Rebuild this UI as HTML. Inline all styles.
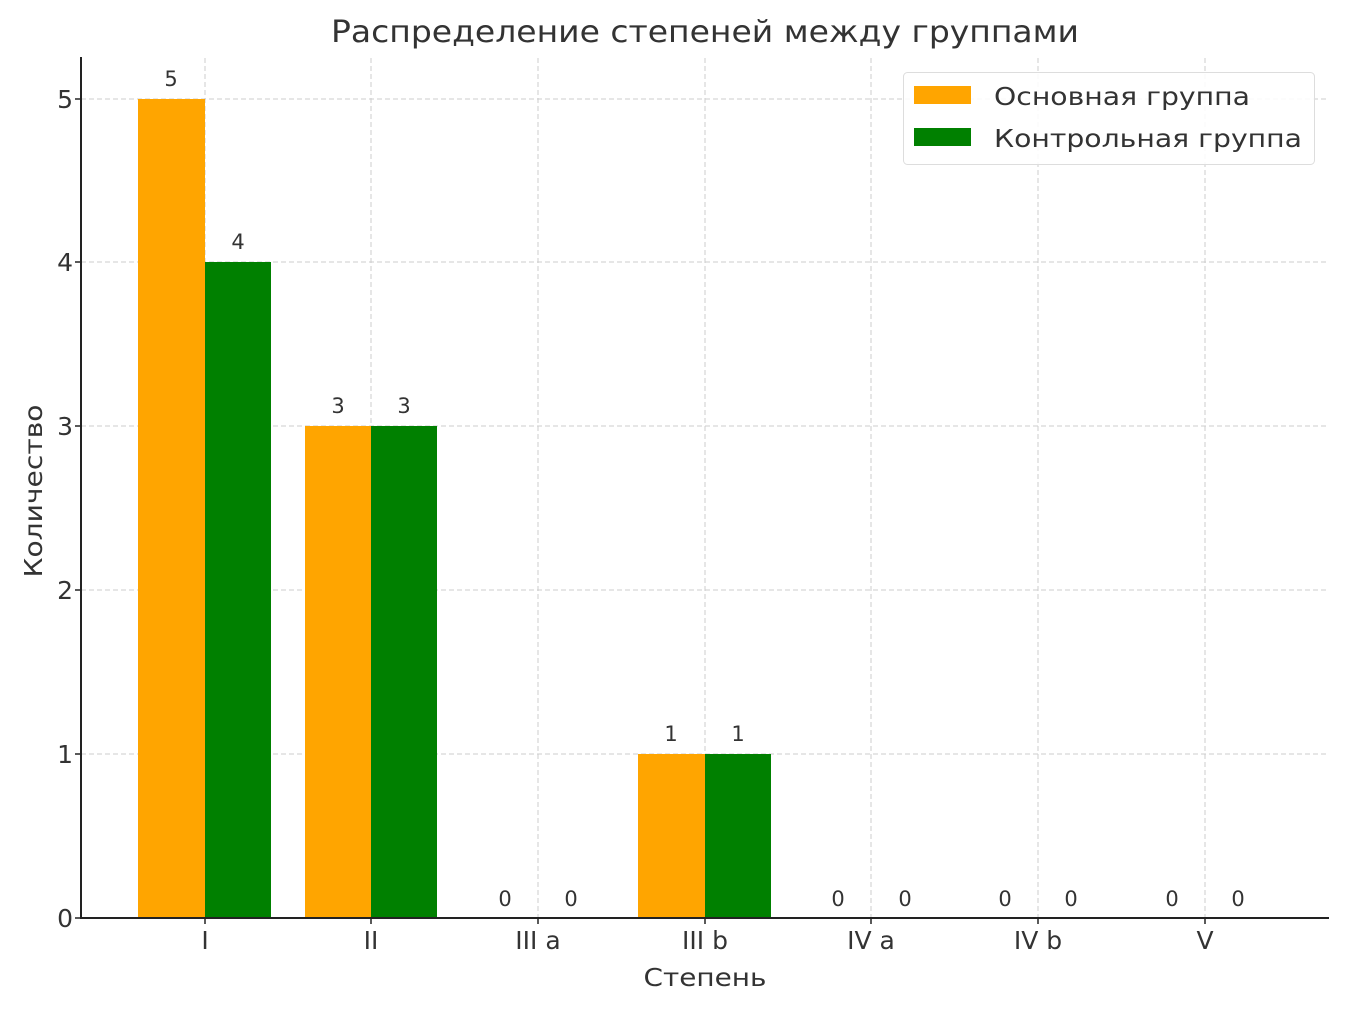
<!DOCTYPE html>
<html><head><meta charset="utf-8"><style>
html,body{margin:0;padding:0;background:#fff}
svg text{font-family:"DejaVu Sans","Liberation Sans",sans-serif;fill:#333}
</style></head><body>
<svg width="1346" height="1011" viewBox="0 0 1346 1011" xmlns="http://www.w3.org/2000/svg">
<g stroke="#ccc" stroke-width="1" stroke-dasharray="5,3">
<line x1="81" y1="99" x2="1329" y2="99"/>
<line x1="81" y1="262" x2="1329" y2="262"/>
<line x1="81" y1="426" x2="1329" y2="426"/>
<line x1="81" y1="590" x2="1329" y2="590"/>
<line x1="81" y1="754" x2="1329" y2="754"/>
<line x1="205" y1="58" x2="205" y2="918"/>
<line x1="371" y1="58" x2="371" y2="918"/>
<line x1="538" y1="58" x2="538" y2="918"/>
<line x1="705" y1="58" x2="705" y2="918"/>
<line x1="871" y1="58" x2="871" y2="918"/>
<line x1="1038" y1="58" x2="1038" y2="918"/>
<line x1="1205" y1="58" x2="1205" y2="918"/>
</g>
<rect x="138" y="99" width="67" height="819" fill="#ffa500"/>
<rect x="205" y="262" width="66" height="656" fill="#008000"/>
<rect x="305" y="426" width="66" height="492" fill="#ffa500"/>
<rect x="371" y="426" width="66" height="492" fill="#008000"/>
<rect x="638" y="754" width="67" height="164" fill="#ffa500"/>
<rect x="705" y="754" width="66" height="164" fill="#008000"/>
<g font-size="21" text-anchor="middle">
<text x="171" y="86">5</text><text x="238" y="249">4</text>
<text x="338" y="413">3</text><text x="404" y="413">3</text>
<text x="505" y="906">0</text><text x="571" y="906">0</text>
<text x="671" y="741">1</text><text x="738" y="741">1</text>
<text x="838" y="906">0</text><text x="905" y="906">0</text>
<text x="1005" y="906">0</text><text x="1071" y="906">0</text>
<text x="1172" y="906">0</text><text x="1238" y="906">0</text>
</g>
<line x1="81" y1="57" x2="81" y2="919" stroke="#222" stroke-width="2"/>
<line x1="80" y1="918" x2="1329" y2="918" stroke="#222" stroke-width="2"/>
<g stroke="#222" stroke-width="1.5">
<line x1="75" y1="99" x2="81" y2="99"/><line x1="75" y1="262" x2="81" y2="262"/>
<line x1="75" y1="426" x2="81" y2="426"/><line x1="75" y1="590" x2="81" y2="590"/>
<line x1="75" y1="754" x2="81" y2="754"/><line x1="75" y1="918" x2="81" y2="918"/>
<line x1="205" y1="918" x2="205" y2="924"/><line x1="371" y1="918" x2="371" y2="924"/>
<line x1="538" y1="918" x2="538" y2="924"/><line x1="705" y1="918" x2="705" y2="924"/>
<line x1="871" y1="918" x2="871" y2="924"/><line x1="1038" y1="918" x2="1038" y2="924"/>
<line x1="1205" y1="918" x2="1205" y2="924"/>
</g>
<g font-size="25" text-anchor="end">
<text x="73" y="108">5</text><text x="73" y="271">4</text><text x="73" y="435">3</text>
<text x="73" y="599">2</text><text x="73" y="763">1</text><text x="73" y="927">0</text>
</g>
<g font-size="25" text-anchor="middle">
<text x="205" y="949">I</text><text x="371" y="949">II</text><text x="538" y="949">III a</text>
<text x="705" y="949">III b</text><text x="871" y="949">IV a</text><text x="1038" y="949">IV b</text>
<text x="1205" y="949">V</text>
</g>
<text x="705" y="986" font-size="25" text-anchor="middle" textLength="123" lengthAdjust="spacingAndGlyphs">Степень</text>
<text transform="translate(42,491) rotate(-90)" font-size="25" text-anchor="middle" textLength="173" lengthAdjust="spacingAndGlyphs">Количество</text>
<text x="705" y="42" font-size="30" text-anchor="middle" textLength="748" lengthAdjust="spacingAndGlyphs">Распределение степеней между группами</text>
<rect x="903.5" y="72.5" width="411" height="92" rx="4" fill="#fff" fill-opacity="0.85" stroke="#ddd"/>
<rect x="914" y="86" width="57" height="18" fill="#ffa500"/>
<rect x="914" y="128" width="57" height="18" fill="#008000"/>
<text x="994" y="105" font-size="25" textLength="256" lengthAdjust="spacingAndGlyphs">Основная группа</text>
<text x="994" y="147" font-size="25" textLength="308" lengthAdjust="spacingAndGlyphs">Контрольная группа</text>
</svg>
</body></html>
